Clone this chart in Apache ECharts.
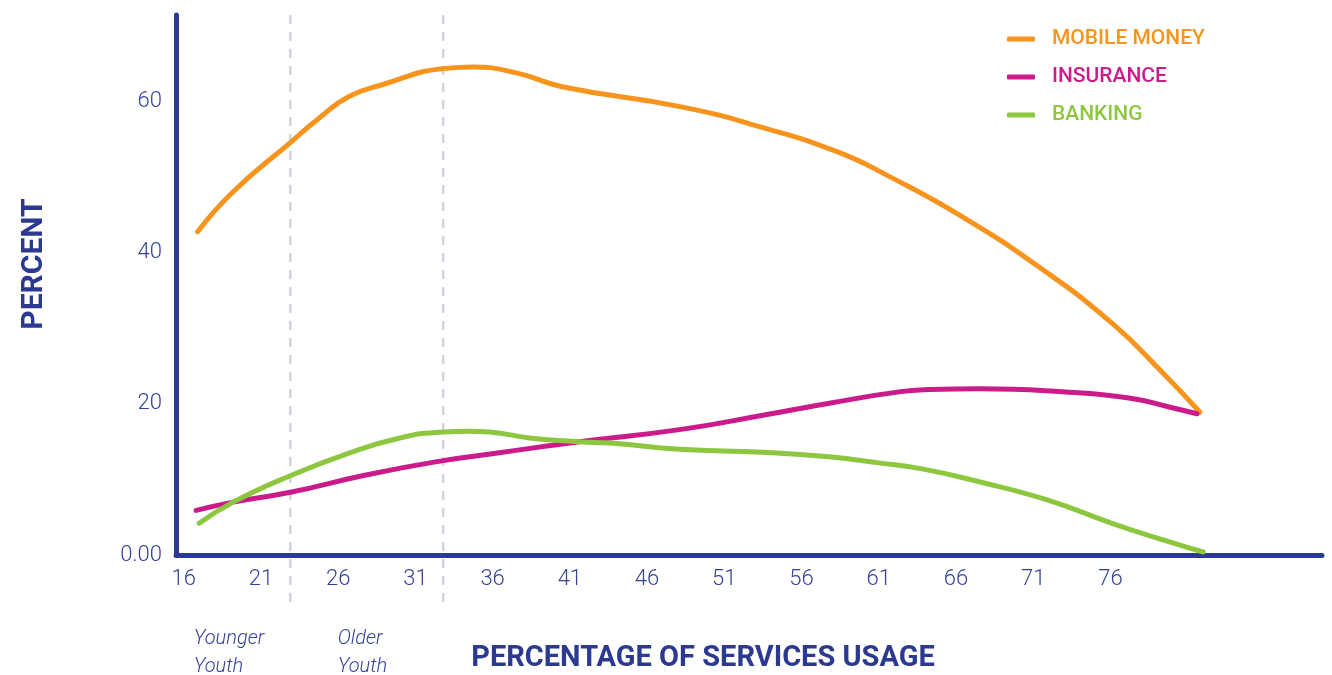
<!DOCTYPE html>
<html>
<head>
<meta charset="utf-8">
<script src="https://cdn.jsdelivr.net/npm/echarts@6/dist/echarts.min.js"></script>
<style>
html,body{margin:0;padding:0;background:#fff;}
#chart{width:1332px;height:675px;}
</style>
</head>
<body>
<div id="chart"></div>
<script>
// ---- data ----
const xTickLabels = [16, 21, 26, 31, 36, 41, 46, 51, 56, 61, 66, 71, 76];
const yTickLabels = [0, 20, 40, 60];

const mobileAges   = [16.9, 19.2, 22.9, 24.8, 26.7, 28.9, 32.8, 34.7, 37.6, 40.5, 48.3, 53.5, 58.3, 61.7, 66.4, 71.4, 76.1, 79.4, 81.8];
const mobileValues = [42.8, 48.1, 54.6, 57.9, 60.7, 62.3, 64.4, 64.6, 63.8, 62.0, 59.3, 56.6, 53.4, 50.1, 44.8, 38.1, 30.7, 24.1, 18.9];

const insuranceAges   = [16.8, 19.2, 22.9, 27.8, 32.8, 36.3, 41.6, 48.1, 53.5, 57.8, 62.3, 64.3, 67.5, 72.9, 77.2, 79.8, 81.6];
const insuranceValues = [5.9, 7.0, 8.3, 10.6, 12.5, 13.5, 15.0, 16.6, 18.5, 20.1, 21.6, 21.9, 22.0, 21.6, 20.8, 19.6, 18.7];

const bankingAges   = [17.0, 19.2, 22.9, 26.7, 30.0, 32.8, 34.5, 35.8, 38.4, 41.6, 43.8, 48.1, 53.5, 57.8, 61.0, 63.8, 67.5, 71.9, 76.1, 79.4, 82.0];
const bankingValues = [4.2, 7.0, 10.5, 13.5, 15.5, 16.3, 16.4, 16.3, 15.5, 15.0, 14.8, 14.0, 13.6, 13.0, 12.2, 11.4, 9.7, 7.3, 4.2, 2.0, 0.4];

const seriesNames = ['MOBILE MONEY', 'INSURANCE', 'BANKING'];
const dividerAges = [22.9, 32.8];
const groupLabels = ['Younger\nYouth', 'Older\nYouth'];
const groupLabelAges = [16.65, 25.97];

// ---- styles ----
const NAVY = '#2B3990';
const LABEL = '#34429A';
const COLORS = ['#F7941D', '#CB1A8A', '#8DC63F'];
const Y_MAX = 71.5;
const Y_BELOW = -7.3;   // dashed dividers reach below the x axis
const Y_GROUP = -9.3;   // group labels sit below the tick labels

function zip(a, b) { return a.map((v, i) => [v, b[i]]); }

const chart = echarts.init(document.getElementById('chart'), null, {renderer: 'canvas'});

function lineSeries(name, data, color) {
  return {
    name: name,
    type: 'line',
    data: data,
    smooth: 0.5,
    symbol: 'none',
    lineStyle: {color: color, width: 5, cap: 'round', join: 'round'},
    itemStyle: {color: color},
    z: 3
  };
}

const option = {
  animation: false,
  backgroundColor: '#ffffff',
  grid: {left: 176, right: 10, top: 15, bottom: 120, containLabel: false},
  xAxis: {
    type: 'value',
    min: 15.5,
    max: 89.7,
    splitLine: {show: false},
    axisTick: {show: false},
    axisLine: {show: true, lineStyle: {color: NAVY, width: 5, cap: 'round'}},
    axisLabel: {
      customValues: xTickLabels,
      color: LABEL,
      fontFamily: 'Roboto',
      fontWeight: 300,
      fontSize: 22,
      margin: 13
    }
  },
  yAxis: {
    type: 'value',
    min: 0,
    max: Y_MAX,
    splitLine: {show: false},
    axisTick: {show: false},
    axisLine: {show: true, lineStyle: {color: NAVY, width: 5, cap: 'round'}},
    axisLabel: {
      customValues: yTickLabels,
      formatter: v => (v === 0 ? '0.00' : String(v)),
      color: LABEL,
      fontFamily: 'Roboto',
      fontWeight: 300,
      fontSize: 22,
      margin: 14
    }
  },
  legend: {
    orient: 'vertical',
    left: 1002,
    top: 22,
    itemWidth: 28,
    itemHeight: 5,
    itemGap: 14,
    icon: 'roundRect',
    data: seriesNames.map((n, i) => ({
      name: n,
      textStyle: {color: COLORS[i]}
    })),
    textStyle: {
      fontFamily: 'Roboto',
      fontWeight: 500,
      fontSize: 21,
      lineHeight: 24,
      padding: [0, 0, 0, 12]
    }
  },
  graphic: [
    {
      type: 'text',
      x: 34, y: 264,
      rotation: Math.PI / 2,
      style: {
        text: 'PERCENT',
        fill: NAVY,
        font: 'bold 30px Roboto',
        textAlign: 'center',
        textVerticalAlign: 'middle'
      }
    },
    {
      type: 'text',
      x: 703, y: 659,
      style: {
        text: 'PERCENTAGE OF SERVICES USAGE',
        fill: NAVY,
        font: 'bold 29px Roboto',
        textAlign: 'center',
        textVerticalAlign: 'middle'
      }
    }
  ],
  series: [
    {
      type: 'custom',
      clip: false,
      silent: true,
      z: 1,
      data: dividerAges.map((a, i) => [a, groupLabelAges[i]]),
      renderItem: function (params, api) {
        const age = api.value(0);
        const top = api.coord([age, Y_MAX]);
        const bottom = api.coord([age, Y_BELOW]);
        const lab = api.coord([api.value(1), Y_GROUP]);
        return {
          type: 'group',
          children: [
            {
              type: 'line',
              shape: {x1: top[0], y1: top[1], x2: bottom[0], y2: bottom[1]},
              style: {stroke: '#CFD4DE', lineWidth: 2.5, lineDash: [9, 8]}
            },
            {
              type: 'text',
              x: lab[0], y: lab[1],
              style: {
                text: groupLabels[params.dataIndex],
                fill: LABEL,
                font: 'italic 300 20px Roboto',
                lineHeight: 28,
                textAlign: 'left',
                textVerticalAlign: 'top'
              }
            }
          ]
        };
      }
    },
    lineSeries(seriesNames[0], zip(mobileAges, mobileValues), COLORS[0]),
    lineSeries(seriesNames[1], zip(insuranceAges, insuranceValues), COLORS[1]),
    lineSeries(seriesNames[2], zip(bankingAges, bankingValues), COLORS[2])
  ]
};

chart.setOption(option);
</script>
</body>
</html>
